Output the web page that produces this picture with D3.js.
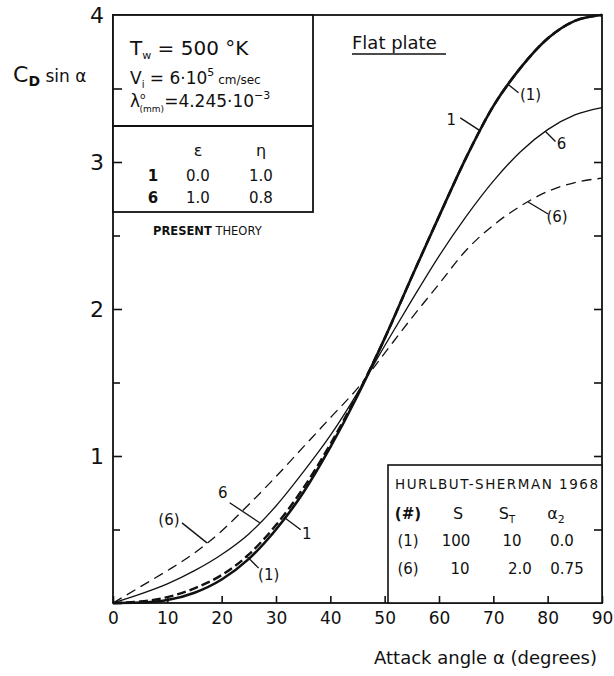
<!DOCTYPE html>
<html>
<head>
<meta charset="utf-8">
<script src="https://cdn.jsdelivr.net/npm/d3@7"></script>
<style>
  html, body { margin: 0; padding: 0; background: #fff; }
  svg text { font-family: "DejaVu Sans", "Liberation Sans", sans-serif; fill: #111; }
</style>
</head>
<body>
<svg id="chart" width="614" height="676"></svg>
<script>
// ---- data ----
const alpha = [0, 5, 10, 15, 20, 25, 30, 35, 40, 45, 50, 55, 60, 65, 70, 75, 80, 85, 90];
// present theory, curve 1 (eps=0.0, eta=1.0)
const cd1 = [0, 0.003, 0.02, 0.07, 0.16, 0.30, 0.50, 0.75, 1.06, 1.41, 1.80, 2.22, 2.63, 3.03, 3.38, 3.64, 3.84, 3.96, 4.00];
// present theory, curve 6 (eps=1.0, eta=0.8)
const cd6 = [0, 0.06, 0.13, 0.22, 0.33, 0.47, 0.66, 0.89, 1.14, 1.43, 1.75, 2.06, 2.36, 2.63, 2.87, 3.07, 3.22, 3.32, 3.37];
// Hurlbut-Sherman 1968, curve (1)
const hs1 = [0, 0.01, 0.04, 0.10, 0.19, 0.33, 0.53, 0.78, 1.08, 1.42, 1.80, 2.22, 2.63, 3.03, 3.38, 3.64, 3.84, 3.96, 4.00];
// Hurlbut-Sherman 1968, curve (6)
const hs6 = [0, 0.11, 0.22, 0.34, 0.49, 0.67, 0.86, 1.06, 1.26, 1.46, 1.70, 1.94, 2.17, 2.40, 2.57, 2.70, 2.80, 2.86, 2.89];

const xTicks = [0, 10, 20, 30, 40, 50, 60, 70, 80, 90];
const yMajor = [0, 1, 2, 3, 4];
const yMinor = [0.5, 1.5, 2.5, 3.5];
const yRight = [0.5, 1, 1.5, 2, 2.5, 3, 3.5];

const presentHeader = ["", "ε", "η"];
const presentRows = [["1", "0.0", "1.0"], ["6", "1.0", "0.8"]];
const hsTitle = "HURLBUT-SHERMAN 1968";
const hsRows = [["(1)", "100", "10", "0.0"], ["(6)", "10", "2.0", "0.75"]];

// ---- layout ----
const svg = d3.select("#chart");
const x = d3.scaleLinear().domain([0, 90]).range([113, 602]);
const y = d3.scaleLinear().domain([0, 4]).range([603, 15]);
const ink = "#111";

// frame
svg.append("rect").attr("x", x(0)).attr("y", y(4)).attr("width", x(90) - x(0)).attr("height", y(0) - y(4))
  .attr("fill", "none").attr("stroke", ink).attr("stroke-width", 1.8);

function styleAxis(g) {
  g.select(".domain").remove();
  g.selectAll(".tick line").attr("stroke", ink).attr("stroke-width", 1.6);
  g.selectAll(".tick text").attr("fill", ink);
}

// left axis: major ticks with labels
svg.append("g").attr("transform", `translate(${x(0)},0)`)
  .call(d3.axisLeft(y).tickValues(yMajor).tickSize(-9).tickPadding(9).tickFormat(d => d === 0 ? "" : d))
  .call(styleAxis)
  .call(g => g.selectAll(".tick text").attr("font-size", 22).attr("font-family", "DejaVu Sans"));
// left minor
svg.append("g").attr("transform", `translate(${x(0)},0)`)
  .call(d3.axisLeft(y).tickValues(yMinor).tickSize(-7).tickFormat(""))
  .call(styleAxis);
// right axis ticks
svg.append("g").attr("transform", `translate(${x(90)},0)`)
  .call(d3.axisRight(y).tickValues(yRight).tickSize(-8).tickFormat(""))
  .call(styleAxis);
// bottom axis
svg.append("g").attr("transform", `translate(0,${y(0)})`)
  .call(d3.axisBottom(x).tickValues(xTicks).tickSize(-7).tickPadding(9))
  .call(styleAxis)
  .call(g => g.selectAll(".tick text").attr("font-size", 17));

// ---- curves ----
const line = d3.line().x((d, i) => x(alpha[i])).y(d => y(d)).curve(d3.curveMonotoneX);
const series = [
  { v: hs6, w: 1.3, dash: "10,6" },
  { v: cd6, w: 1.3, dash: null },
  { v: hs1, w: 2.4, dash: "9,4" },
  { v: cd1, w: 2.6, dash: null }
];
series.forEach(s => {
  svg.append("path").datum(s.v).attr("d", line)
    .attr("fill", "none").attr("stroke", ink).attr("stroke-width", s.w)
    .attr("stroke-dasharray", s.dash);
});

// ---- curve labels with leader lines ----
function valAt(arr, a) {
  const i = Math.min(alpha.length - 2, Math.floor(a / 5));
  const t = (a - alpha[i]) / 5;
  return arr[i] + t * (arr[i + 1] - arr[i]);
}
const labels = [
  { t: "1", arr: cd1, a: 67.6, dx: -20, dy: -13, lx: -29, ly: -11 },
  { t: "(1)", arr: hs1, a: 72.8, dx: 10, dy: 8, lx: 22, ly: 10 },
  { t: "6", arr: cd6, a: 79.6, dx: 10, dy: 10, lx: 16, ly: 13 },
  { t: "(6)", arr: hs6, a: 76.4, dx: 20, dy: 12, lx: 29, ly: 15 },
  { t: "(6)", arr: hs6, a: 17.3, dx: -25, dy: -20, lx: -38, ly: -23 },
  { t: "6", arr: cd6, a: 27.0, dx: -30, dy: -20, lx: -37, ly: -30 },
  { t: "1", arr: cd1, a: 31.6, dx: 16, dy: 12, lx: 22, ly: 16 },
  { t: "(1)", arr: hs1, a: 24.6, dx: 12, dy: 12, lx: 22, ly: 19 }
];
labels.forEach(L => {
  const px = x(L.a), py = y(valAt(L.arr, L.a));
  svg.append("line").attr("x1", px).attr("y1", py).attr("x2", px + L.dx).attr("y2", py + L.dy)
    .attr("stroke", ink).attr("stroke-width", 1.3);
  svg.append("text").attr("x", px + L.lx).attr("y", py + L.ly).attr("text-anchor", "middle")
    .attr("dominant-baseline", "central").attr("font-size", 15).text(L.t);
});

// ---- axis titles ----
const yt = svg.append("text").attr("x", 13).attr("y", 82);
yt.append("tspan").attr("font-size", 22).text("C");
yt.append("tspan").attr("font-size", 14).attr("font-weight", "bold").attr("dy", 4).text("D");
yt.append("tspan").attr("font-size", 17).attr("dy", -4).text(" sin α");

svg.append("text").attr("x", 597).attr("y", 664).attr("text-anchor", "end").attr("font-size", 18)
  .text("Attack angle α (degrees)");

// ---- Flat plate ----
svg.append("text").attr("x", 352).attr("y", 49).attr("font-size", 18).text("Flat plate");
svg.append("line").attr("x1", 352).attr("x2", 446).attr("y1", 54).attr("y2", 54).attr("stroke", ink).attr("stroke-width", 1.5);

// ---- present-theory box ----
const bx0 = x(0), bx1 = 313, by0 = y(4), bySep = 126, by1 = 212;
svg.append("rect").attr("x", bx0).attr("y", by0).attr("width", bx1 - bx0).attr("height", by1 - by0)
  .attr("fill", "#fff").attr("stroke", ink).attr("stroke-width", 1.8);
svg.append("line").attr("x1", bx0).attr("x2", bx1).attr("y1", bySep).attr("y2", bySep).attr("stroke", ink).attr("stroke-width", 1.8);
// redraw the inward left ticks covered by the box
svg.append("g").attr("transform", `translate(${x(0)},0)`)
  .call(d3.axisLeft(y).tickValues([3, 3.5]).tickSize(-9).tickFormat(""))
  .call(styleAxis);

const t1 = svg.append("text").attr("x", 130).attr("y", 55).attr("font-size", 20);
t1.append("tspan").text("T");
t1.append("tspan").attr("font-size", 11).attr("dy", 4).text("w");
t1.append("tspan").attr("dy", -4).text(" = 500 °K");

const t2 = svg.append("text").attr("x", 130).attr("y", 84).attr("font-size", 17);
t2.append("tspan").text("V");
t2.append("tspan").attr("font-size", 10).attr("dy", 4).text("i");
t2.append("tspan").attr("dy", -4).text(" = 6·10");
t2.append("tspan").attr("font-size", 11).attr("dy", -8).text("5");
t2.append("tspan").attr("font-size", 12).attr("dy", 8).text(" cm/sec");

const t3 = svg.append("text").attr("x", 130).attr("y", 107).attr("font-size", 17);
t3.append("tspan").text("λ");
t3.append("tspan").attr("font-size", 9).attr("dy", -8).text("o");
t3.append("tspan").attr("font-size", 9).attr("dx", -6).attr("dy", 13).text("(mm)");
t3.append("tspan").attr("dy", -5).text("=4.245·10");
t3.append("tspan").attr("font-size", 11).attr("dy", -8).text("−3");

const colX = [153, 198, 261];
presentHeader.forEach((h, j) => {
  svg.append("text").attr("x", colX[j]).attr("y", 156).attr("text-anchor", "middle").attr("font-size", 16).text(h);
});
presentRows.forEach((r, i) => {
  r.forEach((c, j) => {
    svg.append("text").attr("x", colX[j]).attr("y", 181 + i * 22).attr("text-anchor", "middle")
      .attr("font-size", 15).attr("font-weight", j === 0 ? "bold" : "normal").text(c);
  });
});

const pt = svg.append("text").attr("x", 153).attr("y", 235).attr("font-size", 11.5);
pt.append("tspan").attr("font-weight", "bold").text("PRESENT");
pt.append("tspan").text(" THEORY");

// ---- Hurlbut-Sherman box ----
const lx0 = 388, ly0 = 465;
svg.append("rect").attr("x", lx0).attr("y", ly0).attr("width", x(90) - lx0).attr("height", y(0) - ly0)
  .attr("fill", "#fff").attr("stroke", ink).attr("stroke-width", 1.6);
// ticks under the legend box
svg.append("g").attr("transform", `translate(0,${y(0)})`)
  .call(d3.axisBottom(x).tickValues([60, 70, 80]).tickSize(-7).tickFormat(""))
  .call(styleAxis);
svg.append("g").attr("transform", `translate(${x(90)},0)`)
  .call(d3.axisRight(y).tickValues([0.5]).tickSize(-8).tickFormat(""))
  .call(styleAxis);

svg.append("text").attr("x", 395).attr("y", 489).attr("font-size", 13.5).attr("textLength", 203).text(hsTitle);
const hcol = [408, 458, 510, 560];
const hh = svg.append("g");
hh.append("text").attr("x", hcol[0]).attr("y", 519).attr("text-anchor", "middle").attr("font-size", 15).attr("font-weight", "bold").text("(#)");
hh.append("text").attr("x", hcol[1]).attr("y", 519).attr("text-anchor", "middle").attr("font-size", 16).text("S");
const st = hh.append("text").attr("x", hcol[2] - 3).attr("y", 519).attr("text-anchor", "middle").attr("font-size", 16);
st.append("tspan").text("S");
st.append("tspan").attr("font-size", 10).attr("dy", 4).text("T");
const a2 = hh.append("text").attr("x", hcol[3] - 4).attr("y", 519).attr("text-anchor", "middle").attr("font-size", 16);
a2.append("tspan").text("α");
a2.append("tspan").attr("font-size", 11).attr("dy", 4).text("2");
const rowCols = [[408, 456, 512, 562], [408, 460, 520, 567]];
hsRows.forEach((r, i) => {
  r.forEach((c, j) => {
    svg.append("text").attr("x", rowCols[i][j]).attr("y", 546 + i * 28).attr("text-anchor", "middle")
      .attr("font-size", 15).text(c);
  });
});
</script>
</body>
</html>
